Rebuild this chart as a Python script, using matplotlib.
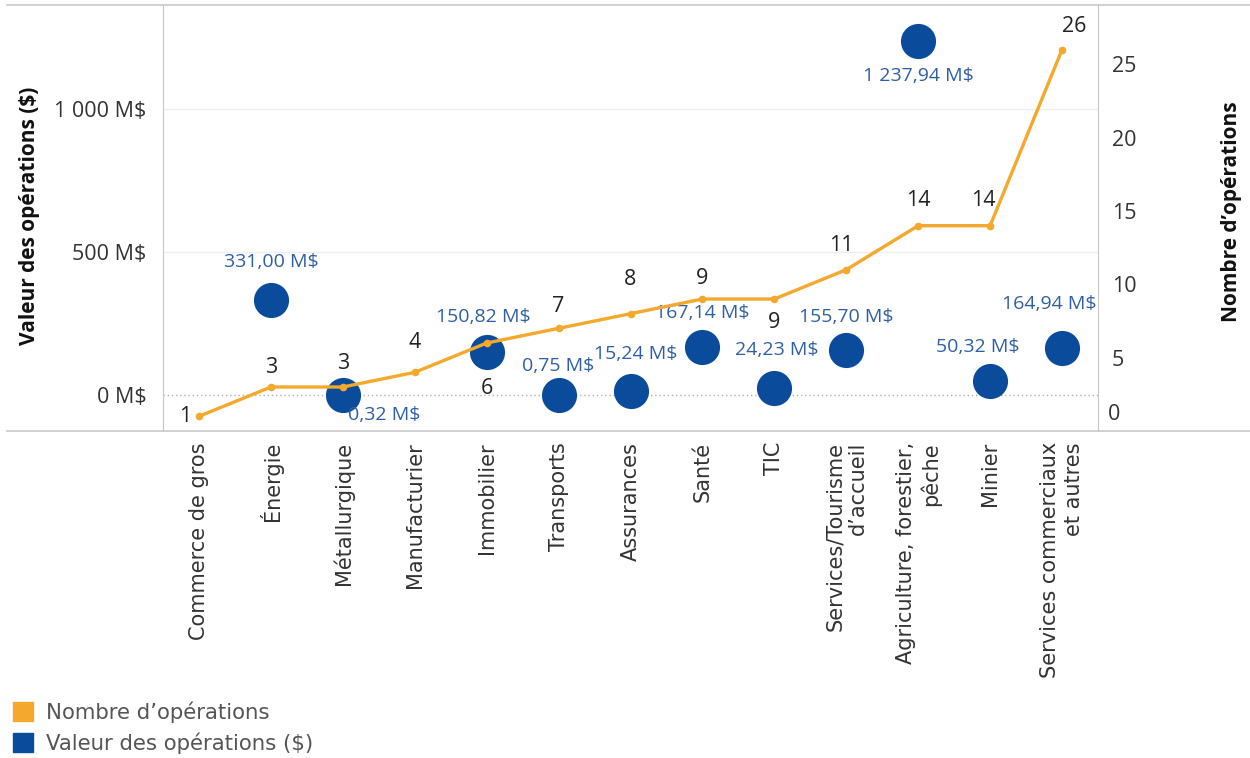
import numpy as np
import matplotlib.pyplot as plt
from matplotlib.lines import Line2D
from matplotlib.patches import Patch

plt.rcParams['font.family'] = ['Open Sans', 'DejaVu Sans']

# secteurs, nombre et valeur des opérations
categories = [
    "Commerce de gros", "Énergie", "Métallurgique", "Manufacturier",
    "Immobilier", "Transports", "Assurances", "Santé", "TIC",
    "Services/Tourisme\nd’accueil", "Agriculture, forestier,\npêche",
    "Minier", "Services commerciaux\net autres",
]
nb_operations = [1, 3, 3, 4, 6, 7, 8, 9, 9, 11, 14, 14, 26]
valeurs = [None, 331.00, 0.32, None, 150.82, 0.75, 15.24, 167.14, 24.23,
           155.70, 1237.94, 50.32, 164.94]

# décalage des étiquettes (pixels, vers la droite / vers le bas)
off_nb = [(-14, 0), (0, -20), (0, -24), (0, -30), (0, 45), (0, -22), (0, -34),
          (0, -21), (0, 23), (-5, -24), (0, -25), (-7, -25), (12, -23)]
off_val = [None, (0, -38), (41, 20), None, (-3, -35), (0, -29), (5, -37),
           (0, -34), (2, -38), (0, -33), (0, 35), (-12, -34), (-13, -44)]

ORANGE = '#F4A82C'
BLUE = '#0A4C9B'
BLUE_TXT = '#2F5FA3'
TXT = '#333333'


def fmt_ms(v):
    s = f"{v:,.2f}".replace(',', ' ').replace('.', ',')
    return s + " M$"


W, H = 1250, 758
fig = plt.figure(figsize=(W / 100, H / 100), dpi=100)
ax = fig.add_axes([163 / W, 1 - 431 / H, 935 / W, 426 / H])
ax2 = ax.twinx()

x = np.arange(len(categories))
ax.set_xlim(-0.5, len(categories) - 0.5)

# valeur des opérations (cercles)
bx = [i for i, v in enumerate(valeurs) if v is not None]
bv = [v for v in valeurs if v is not None]
ax.scatter(bx, bv, s=640, color=BLUE, linewidths=0, zorder=3)
ax.set_ylim(-126, 1364)
ax.set_yticks([0, 500, 1000])
ax.set_yticklabels(["0 M$", "500 M$", "1 000 M$"])
ax.tick_params(axis='y', length=0, pad=12, labelsize=15.5, labelcolor=TXT)
for yv in (500, 1000):
    ax.axhline(yv, color='#eeeeee', lw=1, zorder=0)
ax.axhline(0, color='#b0b0b0', lw=1, ls=(0, (1, 2)), zorder=1)

for i, v in enumerate(valeurs):
    if v is None:
        continue
    dx, dy = off_val[i]
    ax.annotate(fmt_ms(v), (i, v), xytext=(dx, -dy), textcoords='offset pixels',
                ha='center', va='center', fontsize=14, color=BLUE_TXT, zorder=5)

ax.set_xticks(x)
ax.set_xticklabels(categories, rotation=90, va='top', ha='center',
                   multialignment='right', fontsize=15, family='DejaVu Sans',
                   color=TXT)
ax.tick_params(axis='x', length=0, pad=8)

# nombre d'opérations (ligne)
ax2.plot(x, nb_operations, color=ORANGE, lw=2.4, marker='o', ms=4.5, zorder=4)
ax2.set_ylim(0, 29.05)
ax2.set_yticks([5, 10, 15, 20, 25])
ax2.tick_params(axis='y', length=0, pad=10, labelsize=15.5, labelcolor=TXT)
ax2.text(1.0 + 10 / 935, 1.12, "0", transform=ax2.get_yaxis_transform(),
         fontsize=15.5, color=TXT, ha='left', va='center')

for i, n in enumerate(nb_operations):
    dx, dy = off_nb[i]
    ax2.annotate(str(n), (i, n), xytext=(dx, -dy), textcoords='offset pixels',
                 ha='center', va='center', fontsize=15.5, color='#222222', zorder=6)

for a in (ax, ax2):
    for s in a.spines.values():
        s.set_visible(False)
ax.spines['left'].set_visible(True)
ax.spines['right'].set_visible(True)
ax.spines['left'].set_color('#c8c8c8')
ax.spines['right'].set_color('#c8c8c8')

# bordures horizontales pleine largeur
for yp in (5, 431):
    fig.add_artist(Line2D([7 / W, 1.0], [1 - yp / H, 1 - yp / H],
                          color='#c8c8c8', lw=1.2))

fig.text(30 / W, 1 - 216 / H, "Valeur des opérations ($)", rotation=90,
         fontweight='bold', fontsize=15, ha='center', va='center', color='#111111')
fig.text(1232 / W, 1 - 212 / H, "Nombre d’opérations", rotation=90,
         fontweight='bold', fontsize=15, ha='center', va='center', color='#111111')

handles = [Patch(color=ORANGE), Patch(color=BLUE)]
fig.legend(handles, ["Nombre d’opérations", "Valeur des opérations ($)"],
           loc='upper left', bbox_to_anchor=(4 / W, 1 - 693 / H), frameon=False,
           handlelength=0.98, handleheight=0.98, handletextpad=0.6,
           labelspacing=0.45, borderaxespad=0,
           prop={'family': 'DejaVu Sans', 'size': 15.3}, labelcolor='#555555')

fig.savefig('out.png', dpi=100)
